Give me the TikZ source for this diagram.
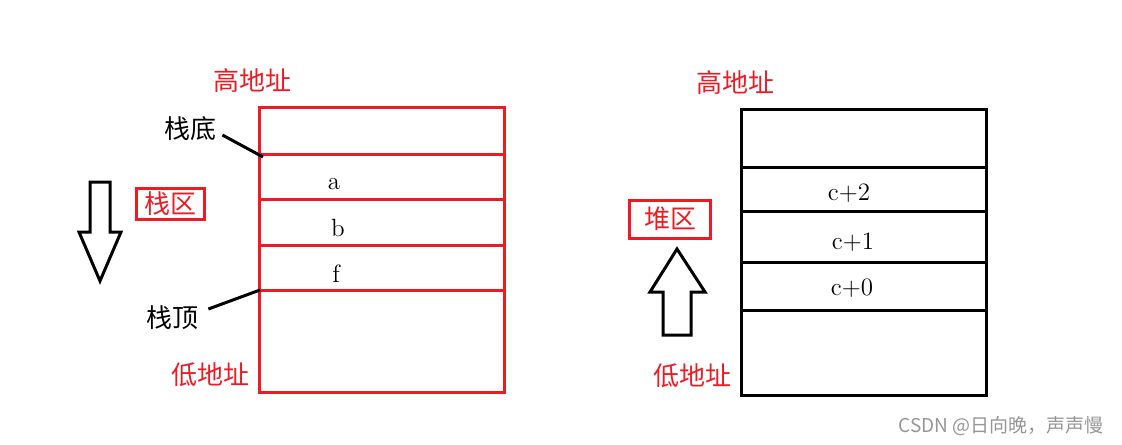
\documentclass[tikz,border=0pt]{standalone}
\usepackage{fontspec}
\newfontfamily\cjk{Noto Sans CJK SC}
\usetikzlibrary{positioning}

\begin{document}
\begin{tikzpicture}[x=0.5pt,y=-0.5pt]
  % colors close to the figure
  \definecolor{boxred}{RGB}{237,28,36}
  \definecolor{markgray}{RGB}{150,150,150}

  \tikzset{
    redlabel/.style={text=boxred, font=\cjk\fontsize{13}{15}\selectfont, inner sep=0pt},
    blacklabel/.style={text=black, font=\cjk\fontsize{13}{15}\selectfont, inner sep=0pt},
    cell/.style={font=\fontsize{12.5}{14}\selectfont, inner sep=0pt},
    areabox/.style={redlabel, draw=boxred, line width=1.5pt},
    wall/.style={line width=1.5pt},
    bigarrow/.style={draw=black, line width=1.5pt, line join=miter},
  }

  \useasboundingbox (0,0) rectangle (1122,444);

  % stack (left, red)
  \draw[wall, boxred] (259,107) rectangle (504,392);
  \foreach \y in {154,199,245,290}
    \draw[wall, boxred] (259,\y) -- (504,\y);
  \coordinate (sbase) at (263,157);
  \coordinate (stop) at (260,290);

  \node[cell] (ca) at (334,184) {a};
  \node[cell] (cb) at (338,228) {b};
  \node[cell] (cf) at (336,274) {f};

  \node[redlabel] (shigh) at (252,81) {高地址};
  \node[redlabel] (slow) at (210,375) {低地址};
  \node[blacklabel] (bottomlbl) at (190,129) {栈底};
  \node[blacklabel] (toplbl) at (172,318) {栈顶};
  \node[areabox, minimum width=34pt, minimum height=15.5pt] (stackarea) at (170,204) {栈区};

  \draw[line width=1.5pt] ([shift={(6,6)}]bottomlbl.east) -- (sbase);
  \draw[line width=1.5pt] ([shift={(10,-9)}]toplbl.east) -- (stop);

  % grows downward
  \draw[bigarrow] (90,182) -- (110,182) -- (110,232) -- (121,232) -- (100,281)
    -- (79,232) -- (90,232) -- cycle;

  % heap (right, black)
  \draw[wall] (741,109) rectangle (986,395);
  \foreach \y in {167,211,262,310}
    \draw[wall] (741,\y) -- (986,\y);

  \node[cell] (c2) at (849,193) {c+2};
  \node[cell] (c1) at (853,242) {c+1};
  \node[cell] (c0) at (852,288) {c+0};

  \node[redlabel] (hhigh) at (735,83) {高地址};
  \node[redlabel] (hlow) at (692,376) {低地址};
  \node[areabox, minimum width=40.5pt, minimum height=19pt] (heaparea) at (670,219) {堆区};

  % grows upward
  \draw[bigarrow] (663,335) -- (691,335) -- (691,292) -- (705,292) -- (677,249)
    -- (650,292) -- (663,292) -- cycle;

  % watermark
  \node[text=markgray, font=\cjk\fontsize{9.5}{11}\selectfont, inner sep=0pt] (mark) at (1001,426) {CSDN @日向晚，声声慢};
\end{tikzpicture}
\end{document}
